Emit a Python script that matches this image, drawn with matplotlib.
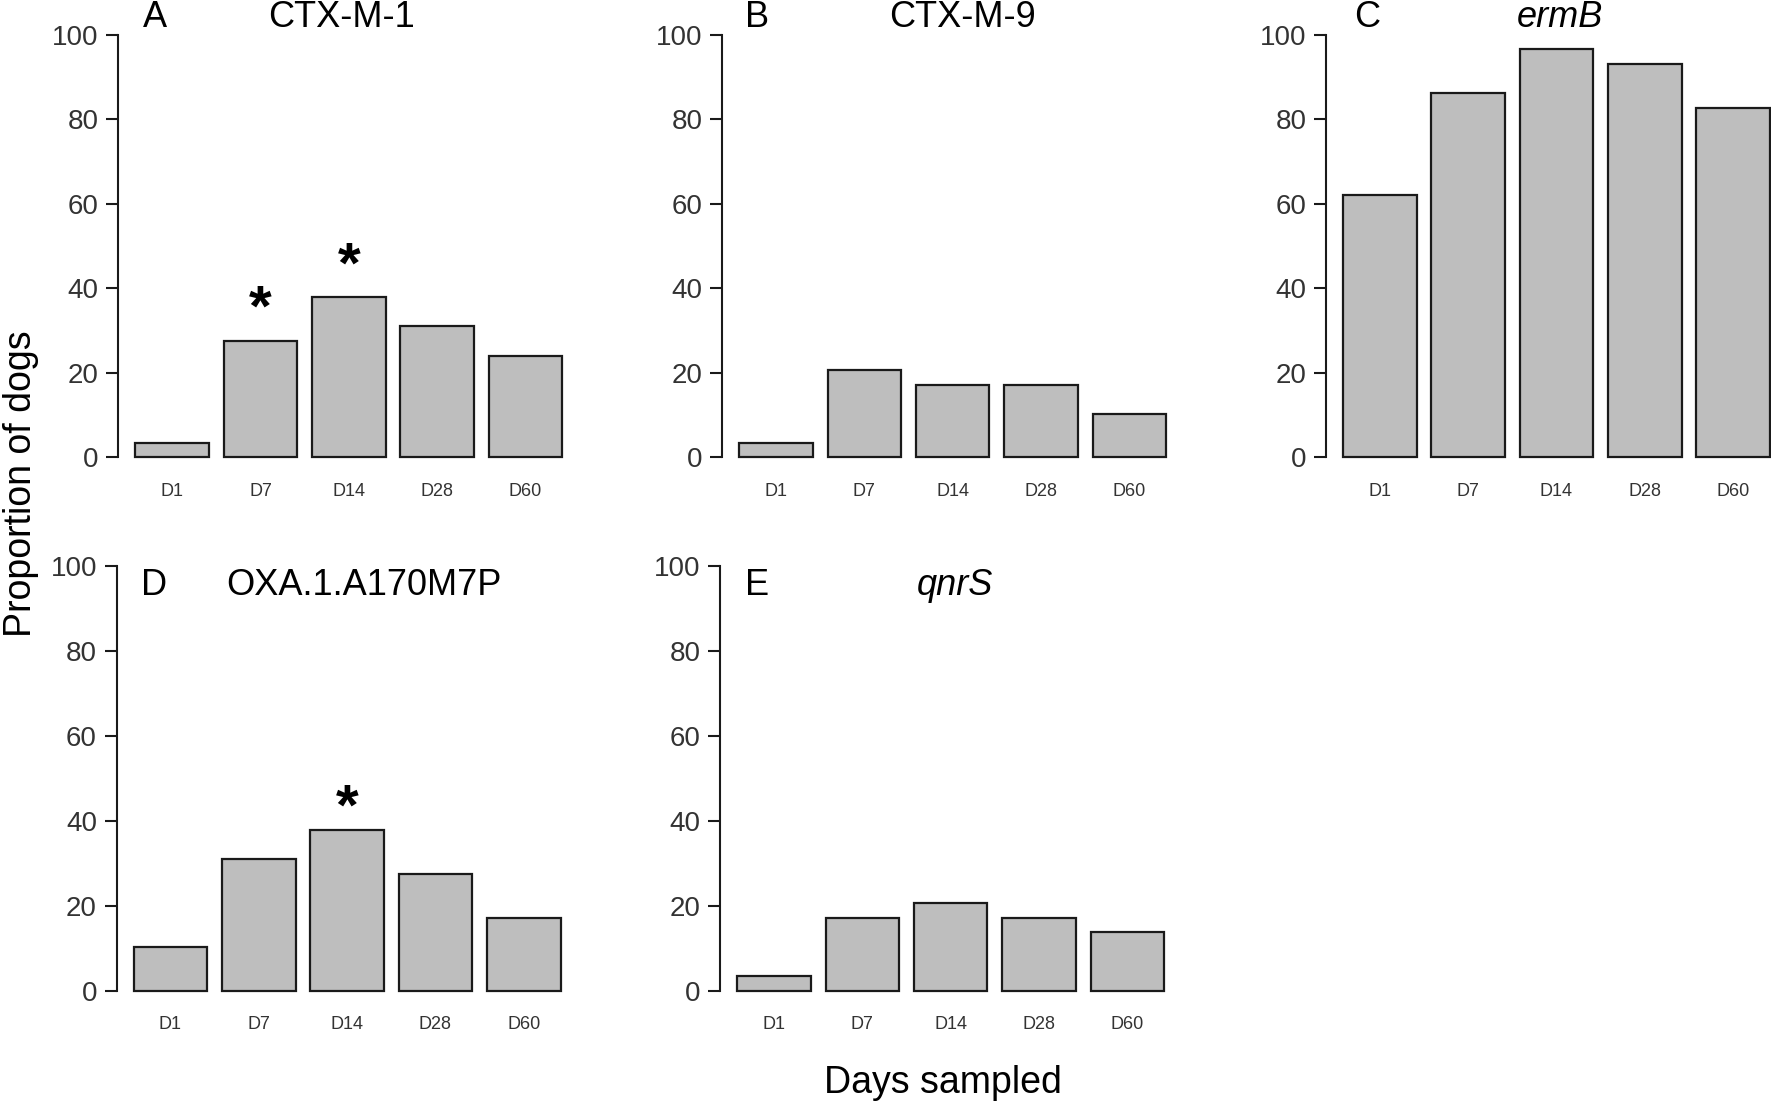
import matplotlib.pyplot as plt

plt.rcParams['font.family'] = ['Liberation Sans', 'DejaVu Sans']

days = ['D1', 'D7', 'D14', 'D28', 'D60']

# proportion of dogs (%) carrying each gene, per sampling day
ctx_m1 = [3.4, 27.6, 37.9, 31.0, 24.1]
ctx_m9 = [3.4, 20.7, 17.2, 17.2, 10.3]
ermb = [62.1, 86.2, 96.6, 93.1, 82.8]
oxa1 = [10.3, 31.0, 37.9, 27.6, 17.2]
qnrs = [3.4, 17.2, 20.7, 17.2, 13.8]

# significance stars: (day index, height)
stars_ctx_m1 = [(1, 38.8), (2, 49.1)]
stars_oxa1 = [(2, 46.9)]

W, H = 1771, 1104
fig = plt.figure(figsize=(W / 100, H / 100), dpi=100)


def px_axes(left, top, width, height):
    return fig.add_axes([left / W, 1 - (top + height) / H, width / W, height / H])


def bar_panel(ax, values, stars, label_pad):
    xs = [0.7 + 1.2 * i for i in range(len(values))]
    ax.bar(xs, values, width=1.0, color='#bebebe', edgecolor='#1a1a1a', linewidth=1.6)
    ax.set_xlim(-0.032, 6.232)
    ax.set_ylim(-4, 104)
    ax.set_yticks([0, 20, 40, 60, 80, 100])
    ax.set_xticks(xs)
    ax.set_xticklabels(days, fontsize=13, color='#333333')
    ax.tick_params(axis='x', length=0, pad=label_pad)
    ax.tick_params(axis='y', length=8.4, width=1.5, pad=5.8, labelsize=20,
                   labelcolor='#333333', color='#1a1a1a')
    for s in ['top', 'right', 'bottom']:
        ax.spines[s].set_visible(False)
    ax.spines['left'].set_bounds(0, 100)
    ax.spines['left'].set_linewidth(1.5)
    ax.spines['left'].set_color('#1a1a1a')
    ax.patch.set_alpha(0)
    for i, y in stars:
        ax.text(xs[i], y - 7.7, '*', ha='center', va='baseline',
                fontsize=42, fontweight='bold', color='black')


top_h, bot_h = 456.2, 458.1
ax_a = px_axes(118.3, 18.1, 461, top_h)
ax_b = px_axes(722.2, 18.1, 461, top_h)
ax_c = px_axes(1326, 18.1, 461, top_h)
ax_d = px_axes(116.6, 549.5, 461, bot_h)
ax_e = px_axes(720.2, 549.5, 461, bot_h)

bar_panel(ax_a, ctx_m1, stars_ctx_m1, 6.5)
bar_panel(ax_b, ctx_m9, [], 6.5)
bar_panel(ax_c, ermb, [], 6.5)
bar_panel(ax_d, oxa1, stars_oxa1, 5.8)
bar_panel(ax_e, qnrs, [], 5.8)


def ftext(x, y, s, **kw):
    fig.text(x / W, 1 - y / H, s, **kw)


title_kw = dict(fontsize=26, ha='center', va='baseline', color='black')
ftext(155, 27, 'A', **title_kw)
ftext(341, 27, 'CTX-M-1', **title_kw)
ftext(757, 27, 'B', **title_kw)
ftext(962, 27, 'CTX-M-9', **title_kw)
ftext(1367, 27, 'C', **title_kw)
ftext(1560, 27, 'ermB', style='italic', **title_kw)
ftext(154, 595, 'D', **title_kw)
ftext(364, 595, 'OXA.1.A170M7P', **title_kw)
ftext(757, 595, 'E', **title_kw)
ftext(955, 595, 'qnrS', style='italic', **title_kw)

ftext(943, 1093, 'Days sampled', fontsize=27, ha='center', va='baseline')
ftext(21, 484, 'Proportion of dogs', fontsize=27, ha='center', va='center',
      rotation=90)

fig.savefig('out.png', dpi=100, facecolor='white')
